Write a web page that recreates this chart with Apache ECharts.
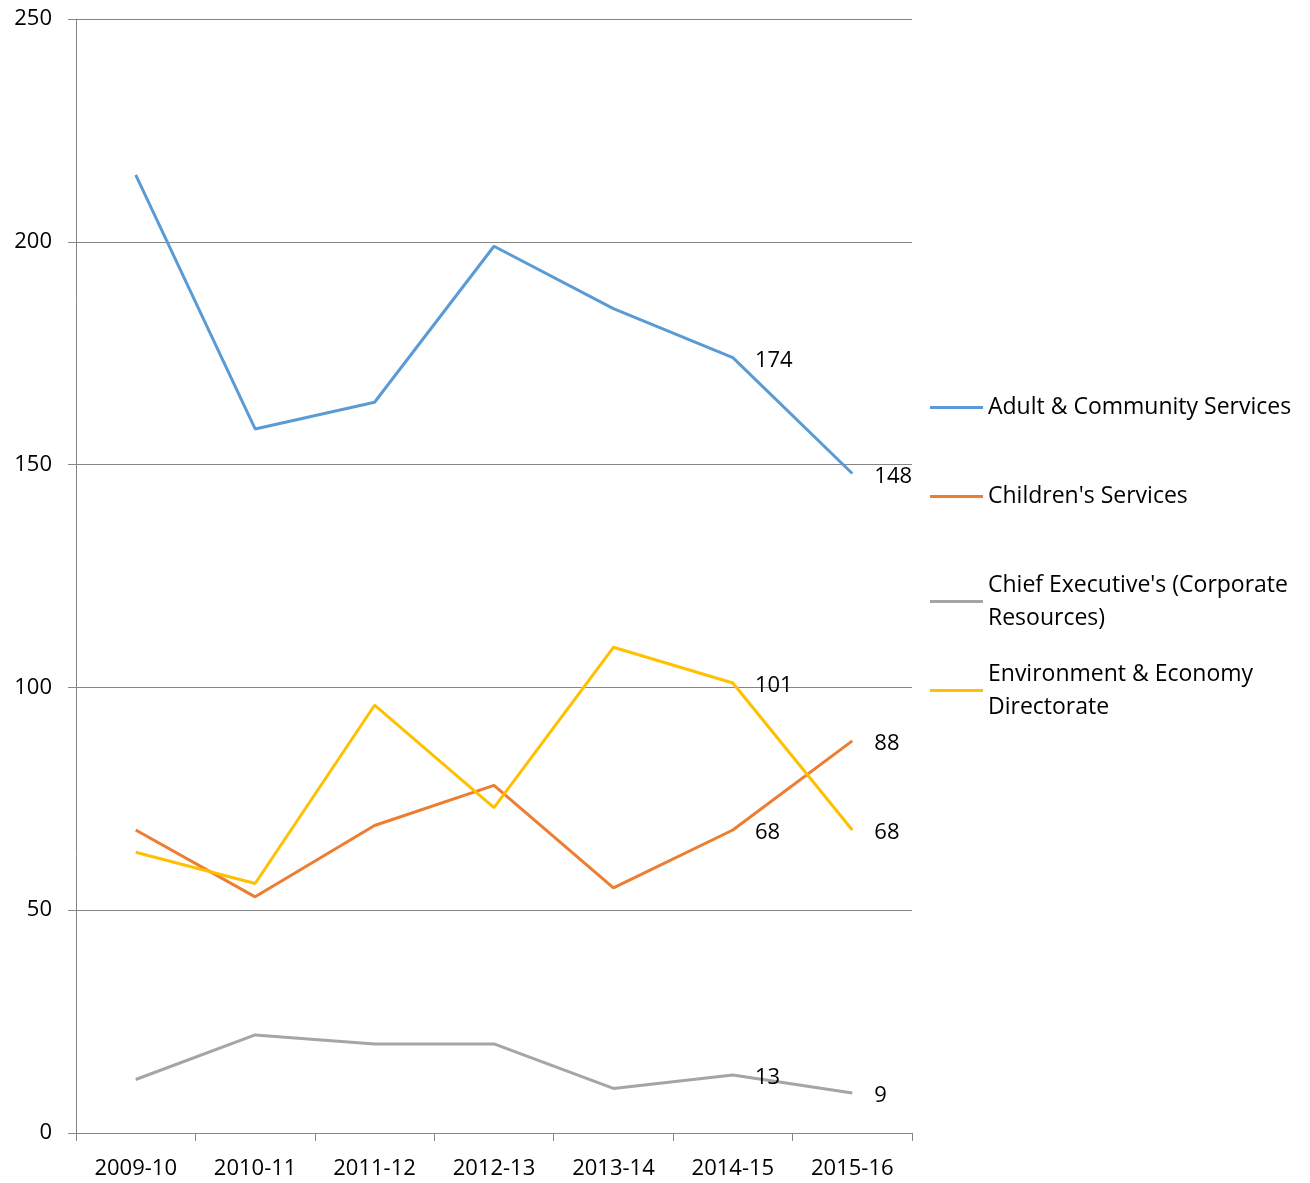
<!DOCTYPE html>
<html>
<head>
    <meta charset="utf-8">
    <title>Line chart</title>
    <script src="https://cdn.jsdelivr.net/npm/echarts@6/dist/echarts.min.js"></script>
    <style>
        html, body { margin: 0; padding: 0; background: #fff; }
        #chart { width: 1310px; height: 1183px; }
    </style>
</head>
<body>
<div id="chart"></div>
<script>
    var years = ['2009-10', '2010-11', '2011-12', '2012-13', '2013-14', '2014-15', '2015-16'];
    var adult = [215, 158, 164, 199, 185, 174, 148];
    var children = [68, 53, 69, 78, 55, 68, 88];
    var chiefExec = [12, 22, 20, 20, 10, 13, 9];
    var environment = [63, 56, 96, 73, 109, 101, 68];

    var names = ["Adult & Community Services", "Children's Services",
        "Chief Executive's (Corporate Resources)", "Environment & Economy Directorate"];
    var colors = ['#5B9BD5', '#ED7D31', '#A5A5A5', '#FFC000'];
    var font = 'Open Sans';

    // only the last two points get a value label
    function withLabels(arr) {
        return arr.map(function (v, i) {
            if (i < arr.length - 2) return v;
            return { value: v, label: { show: true } };
        });
    }

    function makeSeries(name, data, color) {
        return {
            name: name,
            type: 'line',
            data: withLabels(data),
            symbol: 'circle',
            symbolSize: 0.1,
            showSymbol: true,
            lineStyle: { color: color, width: 3 },
            itemStyle: { color: color },
            label: {
                show: false,
                position: 'right',
                distance: 22,
                offset: [0, 3],
                color: '#000',
                fontFamily: font,
                fontSize: 22
            }
        };
    }

    function makeLegend(name, top, twoLines, text) {
        return {
            show: true,
            left: 930,
            top: top,
            padding: 0,
            data: [name],
            icon: 'rect',
            itemWidth: 53,
            itemHeight: 3,
            itemGap: 0,
            formatter: function () { return text; },
            textStyle: {
                color: '#000',
                fontFamily: font,
                fontSize: 23,
                lineHeight: 33,
                padding: twoLines ? [33, 0, 0, 0] : [0, 0, 0, 0]
            }
        };
    }

    var chart = echarts.init(document.getElementById('chart'));
    var option = {
        animation: false,
        backgroundColor: '#fff',
        grid: { left: 76, right: 398, top: 19, bottom: 50 },
        legend: [
            makeLegend(names[0], 391, false, names[0]),
            makeLegend(names[1], 480, false, names[1]),
            makeLegend(names[2], 552, true, "Chief Executive's (Corporate\nResources)"),
            makeLegend(names[3], 641, true, 'Environment & Economy\nDirectorate')
        ],
        xAxis: {
            type: 'category',
            data: years,
            boundaryGap: true,
            axisLine: { show: true, lineStyle: { color: '#868686', width: 1 } },
            axisTick: { show: true, length: 8, alignWithLabel: false, lineStyle: { color: '#868686' } },
            axisLabel: { color: '#000', fontFamily: font, fontSize: 22, margin: 25 },
            splitLine: { show: false }
        },
        yAxis: {
            type: 'value',
            min: 0,
            max: 250,
            interval: 50,
            axisLine: { show: true, lineStyle: { color: '#868686', width: 1 } },
            axisTick: { show: true, length: 8, lineStyle: { color: '#868686' } },
            axisLabel: { color: '#000', fontFamily: font, fontSize: 22, margin: 24 },
            splitLine: { show: true, lineStyle: { color: '#868686', width: 1 } }
        },
        series: [
            makeSeries(names[0], adult, colors[0]),
            makeSeries(names[1], children, colors[1]),
            makeSeries(names[2], chiefExec, colors[2]),
            makeSeries(names[3], environment, colors[3])
        ]
    };
    chart.setOption(option);
</script>
</body>
</html>
